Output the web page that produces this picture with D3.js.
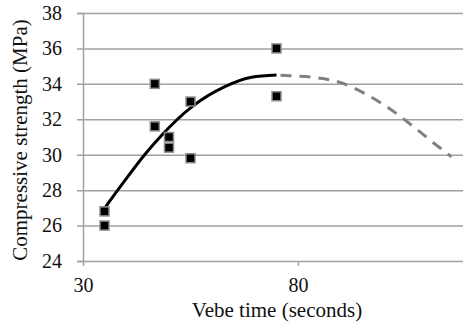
<!DOCTYPE html>
<html>
<head>
<meta charset="utf-8">
<script src="https://cdn.jsdelivr.net/npm/d3@7"></script>
<style>
  body { margin: 0; background: #fff; }
</style>
</head>
<body>
<script>
'use strict';

// measured points
const vebeTime = [35, 35, 46.7, 46.7, 50, 50, 55, 55, 75, 75];
const strength = [26.0, 26.8, 34.0, 31.6, 31.0, 30.4, 33.0, 29.8, 36.0, 33.3];

// trend line (solid part, then dashed extension)
const fitX = [35, 39.8, 44, 48.3, 55.3, 63, 69.2, 75];
const fitY = [26.97, 28.56, 29.9, 31.1, 32.7, 33.84, 34.37, 34.5];
const extX = [75, 78.1, 83.6, 89.8, 95.6, 101, 106, 111.1, 115.7];
const extY = [34.5, 34.46, 34.37, 34.08, 33.45, 32.65, 31.75, 30.75, 29.88];

const xTicks = [30, 80];
const yTicks = [24, 26, 28, 30, 32, 34, 36, 38];

const m = { width: 463, height: 324, left: 83, top: 13, bottom: 261 };
const fontFace = '"Liberation Serif"';

const svg = d3.select('body')
  .append('svg')
  .attr('width', m.width)
  .attr('height', m.height);

const xScale = d3.scaleLinear()
  .domain([30, 130])
  .range([m.left, m.left + 430]);

const yScale = d3.scaleLinear()
  .domain([24, 38])
  .range([m.bottom, m.top]);

// y axis + gridlines
const yAxis = svg.append('g')
  .attr('transform', 'translate(' + m.left + ',0)')
  .call(d3.axisLeft(yScale).tickValues(yTicks).tickSizeOuter(0).tickSize(6).tickPadding(15));
yAxis.select('.domain').attr('stroke', '#a0a0a0').attr('stroke-width', 1.5);
yAxis.selectAll('.tick line')
  .attr('x1', -6)
  .attr('x2', m.width - m.left)
  .attr('stroke', '#a0a0a0')
  .attr('stroke-width', 1.5);
yAxis.selectAll('.tick text')
  .attr('font-family', fontFace)
  .attr('font-size', 20)
  .attr('fill', '#111');

// x axis
const xAxis = svg.append('g')
  .attr('transform', 'translate(0,' + m.bottom + ')')
  .call(d3.axisBottom(xScale).tickValues(xTicks).tickSizeOuter(0).tickSize(5).tickPadding(12));
xAxis.select('.domain').remove();
xAxis.selectAll('.tick line').attr('stroke', '#a0a0a0').attr('stroke-width', 1.5);
xAxis.selectAll('.tick text')
  .attr('font-family', fontFace)
  .attr('font-size', 20)
  .attr('fill', '#111');

// axis titles
svg.append('text')
  .attr('x', 277)
  .attr('y', 317)
  .attr('text-anchor', 'middle')
  .attr('font-family', fontFace)
  .attr('font-size', 21)
  .attr('fill', '#111')
  .text('Vebe time (seconds)');

svg.append('text')
  .attr('transform', 'translate(27,140)rotate(-90)')
  .attr('text-anchor', 'middle')
  .attr('font-family', fontFace)
  .attr('font-size', 21)
  .attr('fill', '#111')
  .text('Compressive strength (MPa)');

// trend line
const line = d3.line()
  .x((d) => xScale(d[0]))
  .y((d) => yScale(d[1]))
  .curve(d3.curveMonotoneX);

svg.append('path')
  .datum(extX.map((x, i) => [x, extY[i]]))
  .attr('d', line)
  .attr('fill', 'none')
  .attr('stroke', '#808080')
  .attr('stroke-width', 3)
  .attr('stroke-dasharray', '11,8')
  .attr('stroke-dashoffset', -4);

svg.append('path')
  .datum(fitX.map((x, i) => [x, fitY[i]]))
  .attr('d', line)
  .attr('fill', 'none')
  .attr('stroke', '#000')
  .attr('stroke-width', 3);

// points
svg.selectAll('.dot')
  .data(vebeTime.map((x, i) => ({ x: x, y: strength[i] })))
  .enter()
  .append('rect')
  .attr('class', 'dot')
  .attr('x', (d) => xScale(d.x) - 4.5)
  .attr('y', (d) => yScale(d.y) - 4.5)
  .attr('width', 9)
  .attr('height', 9)
  .attr('fill', '#000')
  .attr('stroke', '#8c8c8c')
  .attr('stroke-width', 1.5);
</script>
</body>
</html>
